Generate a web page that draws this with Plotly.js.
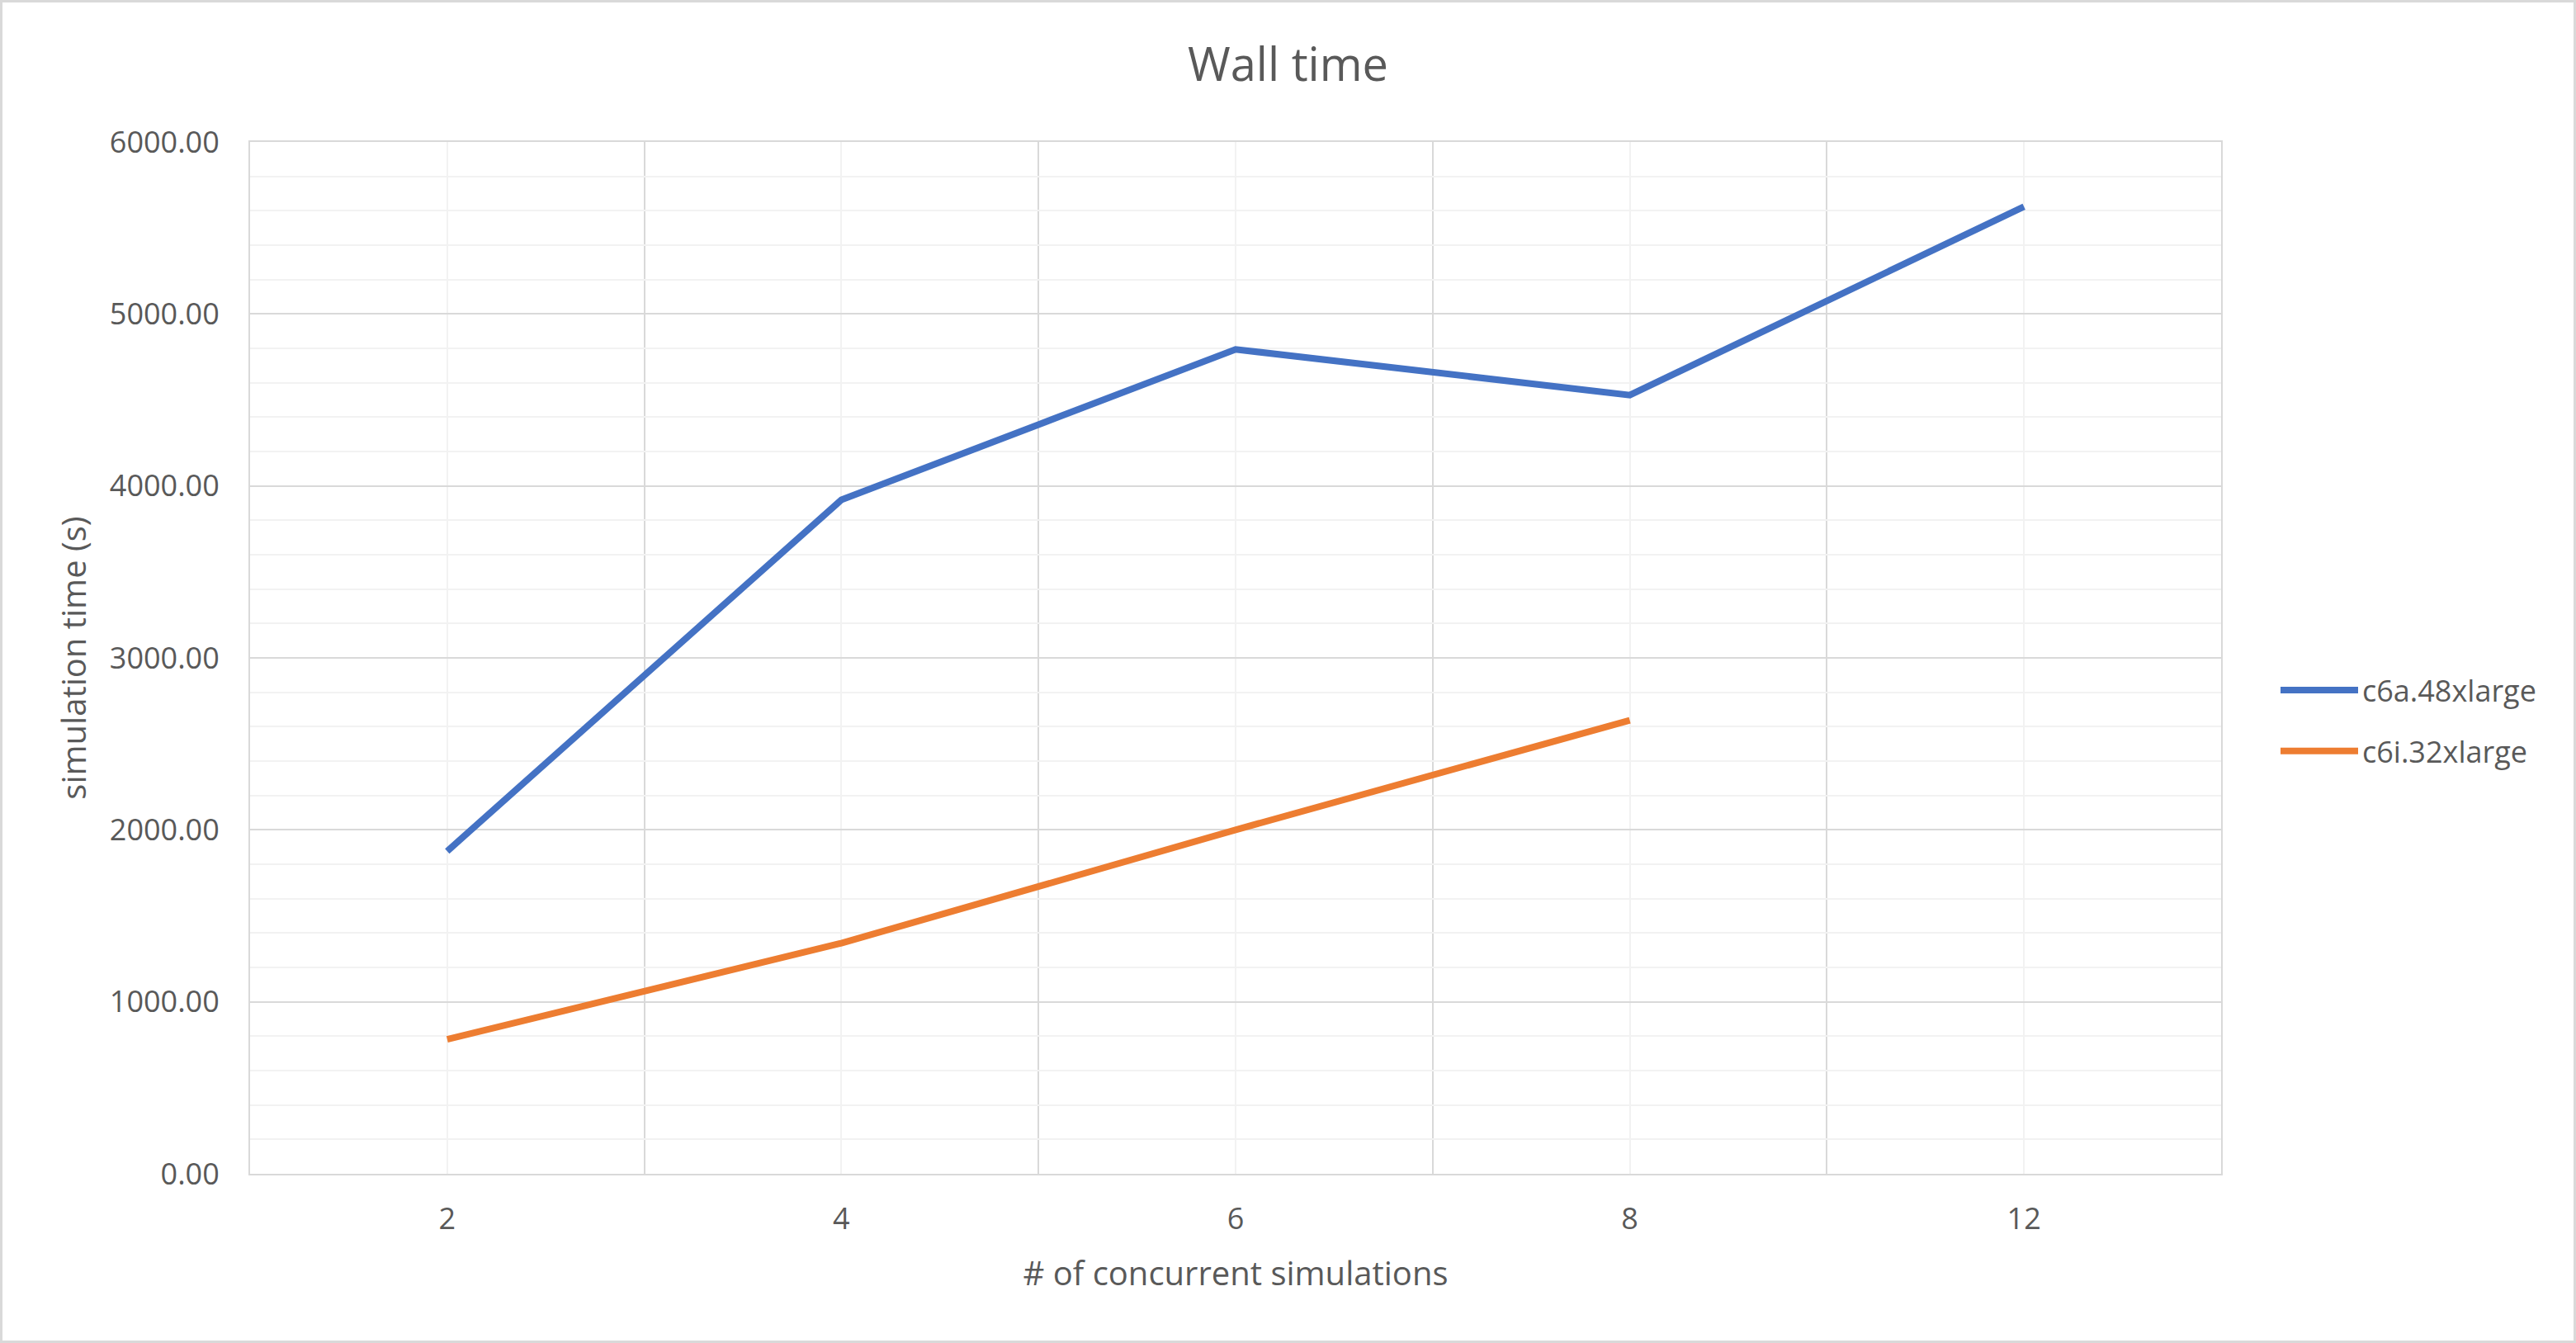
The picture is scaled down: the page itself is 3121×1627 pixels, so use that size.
<!DOCTYPE html>
<html>
<head>
<meta charset="utf-8">
<script src="https://cdn.plot.ly/plotly-3.0.1.min.js"></script>
<style>
  body { margin: 0; background: #fff; }
  #wrap { position: relative; width: 3121px; height: 1627px; }
  #frame {
    position: absolute; left: 0; top: 0; width: 3121px; height: 1627px;
    box-sizing: border-box; border: 3px solid #d9d9d9; pointer-events: none;
  }
</style>
</head>
<body>
<div id="wrap">
  <div id="graph"></div>
  <div id="frame"></div>
</div>
<script>
// concurrent simulations (category axis)
const categories = ['2', '4', '6', '8', '12'];

// wall time in seconds
const c6aTimes = [1876, 3919, 4794, 4528, 5624];
const c6iTimes = [782, 1341, 2000, 2637];

const seriesNames = ['c6a.48xlarge', 'c6i.32xlarge'];
const seriesColors = ['#4472C4', '#ED7D31'];

const textColor = '#595959';
const fontFamily = '"Open Sans", "Noto Sans", sans-serif';

function positions(values) {
    // place each value on its category slot
    return values.map(function (v, i) { return i; });
}

function draw() {
    const traces = [c6aTimes, c6iTimes].map(function (vals, k) {
        return {
            x: positions(vals),
            y: vals,
            type: 'scatter',
            mode: 'lines',
            name: seriesNames[k],
            legendgroup: 'g' + k,
            line: { color: seriesColors[k], width: 8 },
            hoverinfo: 'skip'
        };
    });

    const layout = {
        width: 3121,
        height: 1627,
        paper_bgcolor: '#ffffff',
        plot_bgcolor: '#ffffff',
        font: { family: fontFamily, color: textColor, size: 36 },
        margin: { l: 303, r: 430, t: 172, b: 205, pad: 0 },
        title: {
            text: 'Wall time',
            font: { size: 56, color: textColor },
            x: 0.5,
            xref: 'container',
            xanchor: 'center',
            y: 0.952,
            yref: 'container',
            yanchor: 'middle'
        },
        xaxis: {
            range: [-0.5, categories.length - 0.5],
            tickmode: 'array',
            tickvals: categories.map(function (c, i) { return i; }),
            ticktext: categories,
            showgrid: true,
            gridcolor: '#f2f2f2',
            gridwidth: 2,
            minor: {
                tick0: 0.5,
                dtick: 1,
                showgrid: true,
                gridcolor: '#d9d9d9',
                gridwidth: 2,
                ticks: ''
            },
            zeroline: false,
            showline: true,
            linecolor: '#d9d9d9',
            linewidth: 2,
            mirror: true,
            ticks: '',
            ticklabelstandoff: 22,
            tickfont: { size: 36, color: textColor },
            title: {
                text: '# of concurrent simulations',
                font: { size: 40, color: textColor },
                standoff: 30
            },
            automargin: false
        },
        yaxis: {
            range: [0, 6000],
            dtick: 1000,
            tickformat: '.2f',
            showgrid: true,
            gridcolor: '#d9d9d9',
            gridwidth: 2,
            minor: {
                dtick: 200,
                showgrid: true,
                gridcolor: '#f2f2f2',
                gridwidth: 2,
                ticks: ''
            },
            zeroline: false,
            showline: true,
            linecolor: '#d9d9d9',
            linewidth: 2,
            mirror: true,
            ticks: '',
            ticklabelstandoff: 28,
            tickfont: { size: 36, color: textColor },
            title: {
                text: 'simulation time (s)',
                font: { size: 40, color: textColor },
                standoff: 16
            },
            automargin: false
        },
        showlegend: true,
        legend: {
            x: (2758 - 303) / 2388,
            xanchor: 'left',
            y: (1422 - 873) / 1250,
            yanchor: 'middle',
            font: { size: 36, color: textColor },
            itemwidth: 94,
            tracegroupgap: 24,
            bgcolor: 'rgba(0,0,0,0)'
        }
    };

    Plotly.newPlot('graph', traces, layout, { displayModeBar: false, staticPlot: true });
}

window.addEventListener('load', draw, false);
</script>
</body>
</html>
